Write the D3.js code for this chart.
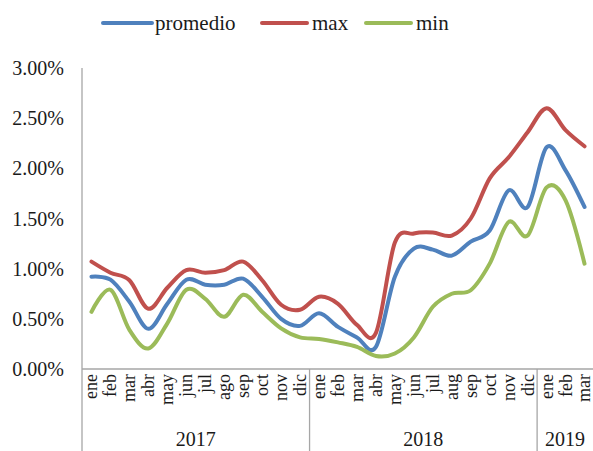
<!DOCTYPE html>
<html>
<head>
<meta charset="utf-8">
<script src="https://cdn.jsdelivr.net/npm/d3@7"></script>
<style>
  body { margin: 0; background: #fff; }
  svg { display: block; }
  text { font-family: "Liberation Serif", "Times New Roman", serif; fill: #1a1a1a; }
</style>
</head>
<body>
<svg id="chart" width="593" height="451"></svg>
<script>
const years = ['2017', '2018', '2019'];
const months = [
  ['ene', 'feb', 'mar', 'abr', 'may', 'jun', 'jul', 'ago', 'sep', 'oct', 'nov', 'dic'],
  ['ene', 'feb', 'mar', 'abr', 'may', 'jun', 'jul', 'aug', 'sep', 'oct', 'nov', 'dic'],
  ['ene', 'feb', 'mar']
];
const promedio = [0.92, 0.89, 0.67, 0.40, 0.65, 0.89, 0.84, 0.84, 0.90, 0.72, 0.50, 0.43,
  0.555, 0.42, 0.315, 0.22, 0.92, 1.20, 1.19, 1.13, 1.27, 1.38, 1.78, 1.615,
  2.21, 1.98, 1.615];
const max = [1.07, 0.96, 0.885, 0.60, 0.81, 0.985, 0.96, 0.985, 1.07, 0.885, 0.64, 0.59,
  0.72, 0.65, 0.44, 0.36, 1.26, 1.35, 1.36, 1.33, 1.50, 1.90, 2.11, 2.36,
  2.60, 2.38, 2.22];
const min = [0.57, 0.79, 0.39, 0.205, 0.455, 0.79, 0.70, 0.52, 0.74, 0.57, 0.405, 0.315,
  0.30, 0.265, 0.22, 0.13, 0.155, 0.315, 0.62, 0.75, 0.785, 1.05, 1.465, 1.33,
  1.81, 1.68, 1.05];
const yTicks = [0, 0.5, 1, 1.5, 2, 2.5, 3];

const series = [
  { name: 'promedio', values: promedio, color: '#4f81bd' },
  { name: 'max', values: max, color: '#c0504d' },
  { name: 'min', values: min, color: '#9bbb59' }
];

const config = {
  left: 82,
  right: 594,
  top: 68,
  bottom: 369,
  axisColor: '#a6a6a6',
  lineWidth: 4
};

// flat list of categories, one per month
const cats = [];
months.forEach((ms, yi) => ms.forEach((m, mi) => cats.push({ id: `${yi}_${mi}`, month: m, year: yi })));

const svg = d3.select('#chart');

const x = d3.scaleBand()
  .domain(cats.map(c => c.id))
  .range([config.left, config.right]);

const y = d3.scaleLinear()
  .domain([0, 3])
  .range([config.bottom, config.top]);

// y axis labels
svg.append('g')
  .selectAll('text')
  .data(yTicks)
  .enter()
  .append('text')
  .attr('x', 64)
  .attr('y', d => y(d))
  .attr('dy', '0.35em')
  .attr('text-anchor', 'end')
  .style('font-size', '20px')
  .text(d => d3.format('.2f')(d) + '%');

const axes = svg.append('g')
  .attr('stroke', config.axisColor)
  .attr('stroke-width', 1.3);

axes.append('line')
  .attr('x1', config.left).attr('x2', config.left)
  .attr('y1', config.top).attr('y2', 451);

axes.append('line')
  .attr('x1', config.left).attr('x2', config.right)
  .attr('y1', config.bottom).attr('y2', config.bottom);

// year group separators
let offset = 0;
const groups = years.map((yr, i) => {
  const first = cats[offset].id;
  const last = cats[offset + months[i].length - 1].id;
  offset += months[i].length;
  return { year: yr, x0: x(first), x1: x(last) + x.bandwidth() };
});

axes.selectAll('line.sep')
  .data(groups.slice(1))
  .enter()
  .append('line')
  .attr('class', 'sep')
  .attr('x1', d => d.x0).attr('x2', d => d.x0)
  .attr('y1', config.bottom).attr('y2', 451);

// month labels, rotated
svg.append('g')
  .selectAll('text')
  .data(cats)
  .enter()
  .append('text')
  .attr('transform', d => `translate(${x(d.id) + x.bandwidth() / 2}, ${config.bottom + 5}) rotate(-90)`)
  .attr('dy', '0.33em')
  .attr('text-anchor', 'end')
  .style('font-size', '18px')
  .text(d => d.month);

svg.append('g')
  .selectAll('text')
  .data(groups)
  .enter()
  .append('text')
  .attr('x', d => (d.x0 + Math.min(d.x1, 593)) / 2)
  .attr('y', 446)
  .attr('text-anchor', 'middle')
  .style('font-size', '20px')
  .text(d => d.year);

const line = d3.line()
  .x((d, i) => x(cats[i].id) + x.bandwidth() / 2)
  .y(d => y(d))
  .curve(d3.curveCardinal.tension(0));

svg.append('g')
  .selectAll('path')
  .data(series)
  .enter()
  .append('path')
  .attr('fill', 'none')
  .attr('stroke', d => d.color)
  .attr('stroke-width', config.lineWidth)
  .attr('stroke-linejoin', 'round')
  .attr('stroke-linecap', 'round')
  .attr('d', d => line(d.values));

// legend
const legendPos = [103, 262, 366];
const legend = svg.append('g')
  .selectAll('g')
  .data(series)
  .enter()
  .append('g')
  .attr('transform', (d, i) => `translate(${legendPos[i]}, 23)`);

legend.append('line')
  .attr('x1', 0).attr('x2', (d, i) => i === 0 ? 49 : 45)
  .attr('stroke', d => d.color)
  .attr('stroke-width', config.lineWidth)
  .attr('stroke-linecap', 'round');

legend.append('text')
  .attr('x', (d, i) => i === 0 ? 52 : 50)
  .attr('dy', '0.32em')
  .style('font-size', '21px')
  .text(d => d.name);
</script>
</body>
</html>
